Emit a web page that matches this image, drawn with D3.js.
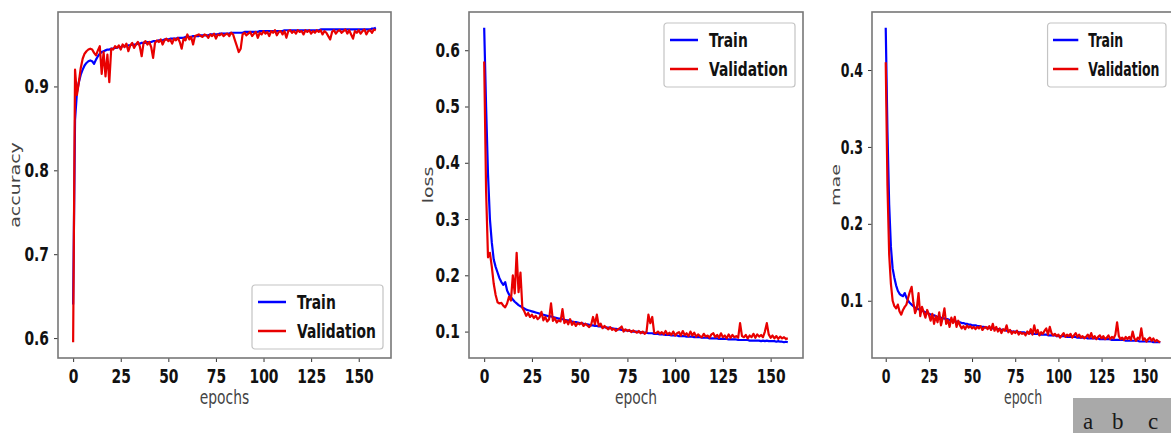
<!DOCTYPE html>
<html>
<head>
<meta charset="utf-8">
<script src="https://cdn.jsdelivr.net/npm/d3@7"></script>
<style>
  body { margin: 0; background: #fff; }
  svg { display: block; }
</style>
</head>
<body>
<svg id="chart" width="1171" height="433"></svg>
<script>
// ---- data ----
var epochs = d3.range(160);
var xTicks = [0, 25, 50, 75, 100, 125, 150];

var accTrain = [
  0.640, 0.860, 0.893, 0.905, 0.914, 0.920, 0.925, 0.928, 0.930, 0.931, 0.930, 0.927, 0.932, 0.936, 0.939, 0.941, 0.942, 0.943, 0.944, 0.944,
  0.945, 0.945, 0.946, 0.946, 0.947, 0.947, 0.948, 0.948, 0.948, 0.949, 0.949, 0.950, 0.950, 0.950, 0.951, 0.951, 0.952, 0.952, 0.952, 0.953,
  0.953, 0.953, 0.954, 0.954, 0.954, 0.955, 0.955, 0.955, 0.956, 0.956, 0.956, 0.957, 0.957, 0.957, 0.957, 0.958, 0.958, 0.958, 0.958, 0.959,
  0.959, 0.959, 0.959, 0.960, 0.960, 0.960, 0.960, 0.961, 0.961, 0.961, 0.961, 0.961, 0.962, 0.962, 0.962, 0.962, 0.962, 0.963, 0.963, 0.963,
  0.963, 0.963, 0.963, 0.964, 0.964, 0.964, 0.964, 0.964, 0.964, 0.964, 0.965, 0.965, 0.965, 0.965, 0.965, 0.965, 0.965, 0.965, 0.966, 0.966,
  0.966, 0.966, 0.966, 0.966, 0.966, 0.966, 0.966, 0.966, 0.966, 0.966, 0.966, 0.967, 0.967, 0.967, 0.967, 0.967, 0.967, 0.967, 0.967, 0.967,
  0.967, 0.967, 0.967, 0.967, 0.967, 0.967, 0.967, 0.967, 0.967, 0.967, 0.968, 0.968, 0.968, 0.968, 0.968, 0.968, 0.968, 0.968, 0.968, 0.968,
  0.968, 0.968, 0.968, 0.968, 0.968, 0.968, 0.968, 0.968, 0.968, 0.968, 0.968, 0.968, 0.968, 0.968, 0.968, 0.968, 0.968, 0.969, 0.969, 0.970
];
var accVal = [
  0.595, 0.920, 0.890, 0.905, 0.922, 0.933, 0.939, 0.942, 0.944, 0.945, 0.944, 0.940, 0.937, 0.943, 0.948, 0.915, 0.941, 0.912, 0.938, 0.905,
  0.945, 0.944, 0.948, 0.946, 0.949, 0.944, 0.950, 0.947, 0.951, 0.942, 0.949, 0.952, 0.946, 0.950, 0.953, 0.948, 0.936, 0.952, 0.954, 0.950,
  0.953, 0.947, 0.934, 0.952, 0.955, 0.953, 0.956, 0.950, 0.955, 0.957, 0.954, 0.956, 0.951, 0.957, 0.955, 0.958, 0.953, 0.945, 0.957, 0.955,
  0.962, 0.956, 0.959, 0.950, 0.960, 0.961, 0.962, 0.960, 0.959, 0.962, 0.961, 0.958, 0.962, 0.960, 0.963, 0.957, 0.962, 0.961, 0.963, 0.960,
  0.962, 0.963, 0.960, 0.964, 0.962, 0.955, 0.948, 0.941, 0.945, 0.962, 0.964, 0.961, 0.963, 0.965, 0.960, 0.963, 0.965, 0.958, 0.964, 0.962,
  0.966, 0.963, 0.965, 0.960, 0.966, 0.964, 0.967, 0.961, 0.965, 0.966, 0.962, 0.966, 0.958, 0.966, 0.967, 0.964, 0.966, 0.963, 0.967, 0.965,
  0.966, 0.962, 0.967, 0.965, 0.967, 0.963, 0.966, 0.964, 0.967, 0.965, 0.967, 0.962, 0.966, 0.964, 0.960, 0.956, 0.965, 0.967, 0.963, 0.966,
  0.967, 0.964, 0.966, 0.968, 0.963, 0.967, 0.962, 0.957, 0.966, 0.964, 0.967, 0.963, 0.966, 0.968, 0.962, 0.966, 0.967, 0.964, 0.968, 0.967
];

var lossTrain = [
  0.640, 0.500, 0.380, 0.300, 0.258, 0.228, 0.215, 0.205, 0.195, 0.188, 0.183, 0.188, 0.173, 0.166, 0.161, 0.157, 0.153, 0.150, 0.147, 0.145,
  0.143, 0.141, 0.139, 0.138, 0.137, 0.136, 0.135, 0.134, 0.133, 0.132, 0.131, 0.130, 0.129, 0.128, 0.127, 0.127, 0.126, 0.125, 0.124, 0.123,
  0.123, 0.122, 0.121, 0.120, 0.120, 0.119, 0.118, 0.117, 0.117, 0.116, 0.115, 0.115, 0.114, 0.113, 0.113, 0.112, 0.111, 0.111, 0.110, 0.110,
  0.109, 0.109, 0.108, 0.108, 0.107, 0.107, 0.106, 0.106, 0.105, 0.105, 0.104, 0.104, 0.103, 0.103, 0.102, 0.102, 0.101, 0.101, 0.100, 0.100,
  0.100, 0.099, 0.099, 0.098, 0.098, 0.098, 0.097, 0.097, 0.097, 0.096, 0.096, 0.096, 0.095, 0.095, 0.095, 0.094, 0.094, 0.094, 0.093, 0.093,
  0.093, 0.093, 0.092, 0.092, 0.092, 0.092, 0.091, 0.091, 0.091, 0.091, 0.090, 0.090, 0.090, 0.090, 0.089, 0.089, 0.089, 0.089, 0.088, 0.088,
  0.088, 0.088, 0.088, 0.087, 0.087, 0.087, 0.087, 0.087, 0.086, 0.086, 0.086, 0.086, 0.086, 0.085, 0.085, 0.085, 0.085, 0.085, 0.085, 0.084,
  0.084, 0.084, 0.084, 0.084, 0.084, 0.083, 0.084, 0.083, 0.084, 0.083, 0.083, 0.083, 0.083, 0.082, 0.083, 0.082, 0.082, 0.081, 0.082, 0.081
];
var lossVal = [
  0.580, 0.350, 0.232, 0.240, 0.215, 0.185, 0.165, 0.152, 0.150, 0.151, 0.146, 0.143, 0.150, 0.162, 0.155, 0.200, 0.168, 0.240, 0.170, 0.205,
  0.142, 0.136, 0.128, 0.133, 0.126, 0.130, 0.124, 0.128, 0.122, 0.125, 0.135, 0.120, 0.126, 0.118, 0.122, 0.150, 0.119, 0.124, 0.116, 0.120,
  0.118, 0.140, 0.115, 0.120, 0.113, 0.122, 0.112, 0.117, 0.110, 0.115, 0.113, 0.116, 0.110, 0.114, 0.111, 0.108, 0.112, 0.126, 0.113, 0.130,
  0.110, 0.114, 0.106, 0.110, 0.107, 0.104, 0.108, 0.103, 0.105, 0.101, 0.104, 0.106, 0.109, 0.100, 0.104, 0.101, 0.103, 0.099, 0.102, 0.100,
  0.098, 0.101, 0.097, 0.100, 0.096, 0.099, 0.130, 0.115, 0.126, 0.098, 0.097, 0.100, 0.096, 0.099, 0.095, 0.101, 0.095, 0.098, 0.094, 0.100,
  0.093, 0.097, 0.099, 0.093, 0.101, 0.094, 0.097, 0.092, 0.100, 0.093, 0.098, 0.091, 0.095, 0.092, 0.090, 0.096, 0.091, 0.093, 0.089, 0.095,
  0.097, 0.090, 0.094, 0.089, 0.097, 0.090, 0.093, 0.088, 0.095, 0.089, 0.094, 0.090, 0.092, 0.089, 0.115, 0.092, 0.090, 0.094, 0.088, 0.093,
  0.090, 0.096, 0.089, 0.095, 0.091, 0.094, 0.090, 0.100, 0.115, 0.095, 0.089, 0.093, 0.088, 0.092, 0.087, 0.091, 0.088, 0.090, 0.087, 0.088
];

var maeTrain = [
  0.455, 0.320, 0.225, 0.170, 0.142, 0.130, 0.120, 0.113, 0.109, 0.107, 0.106, 0.110, 0.104, 0.100, 0.097, 0.095, 0.093, 0.091, 0.090, 0.089,
  0.088, 0.087, 0.086, 0.085, 0.084, 0.083, 0.082, 0.081, 0.081, 0.080, 0.079, 0.079, 0.078, 0.077, 0.077, 0.076, 0.076, 0.075, 0.074, 0.074,
  0.073, 0.073, 0.072, 0.072, 0.071, 0.071, 0.070, 0.070, 0.069, 0.069, 0.068, 0.068, 0.068, 0.067, 0.067, 0.066, 0.066, 0.066, 0.065, 0.065,
  0.065, 0.064, 0.064, 0.064, 0.063, 0.063, 0.063, 0.062, 0.062, 0.062, 0.061, 0.061, 0.061, 0.060, 0.060, 0.060, 0.060, 0.059, 0.059, 0.059,
  0.059, 0.058, 0.058, 0.058, 0.058, 0.057, 0.057, 0.057, 0.057, 0.056, 0.056, 0.056, 0.056, 0.056, 0.055, 0.055, 0.055, 0.055, 0.055, 0.054,
  0.054, 0.054, 0.054, 0.054, 0.054, 0.053, 0.053, 0.053, 0.053, 0.053, 0.053, 0.052, 0.052, 0.052, 0.052, 0.052, 0.052, 0.051, 0.051, 0.051,
  0.051, 0.051, 0.051, 0.051, 0.050, 0.050, 0.050, 0.050, 0.050, 0.050, 0.050, 0.049, 0.049, 0.049, 0.049, 0.049, 0.049, 0.049, 0.049, 0.048,
  0.048, 0.048, 0.048, 0.048, 0.048, 0.048, 0.048, 0.047, 0.047, 0.047, 0.047, 0.047, 0.047, 0.047, 0.047, 0.046, 0.046, 0.046, 0.046, 0.046
];
var maeVal = [
  0.410, 0.250, 0.160, 0.122, 0.100, 0.093, 0.090, 0.095, 0.086, 0.082, 0.088, 0.092, 0.095, 0.104, 0.112, 0.118, 0.098, 0.084, 0.090, 0.110,
  0.080, 0.092, 0.085, 0.078, 0.088, 0.082, 0.074, 0.083, 0.070, 0.080, 0.072, 0.085, 0.068, 0.078, 0.090, 0.070, 0.075, 0.066, 0.078, 0.071,
  0.079, 0.066, 0.074, 0.068, 0.064, 0.067, 0.063, 0.068, 0.065, 0.067, 0.064, 0.066, 0.063, 0.066, 0.064, 0.067, 0.062, 0.065, 0.066, 0.063,
  0.067, 0.062, 0.070, 0.061, 0.066, 0.060, 0.064, 0.058, 0.063, 0.061, 0.068, 0.059, 0.062, 0.057, 0.060, 0.058, 0.061, 0.056, 0.059, 0.057,
  0.058, 0.055, 0.060, 0.057, 0.063, 0.056, 0.068, 0.058, 0.062, 0.055, 0.059, 0.057, 0.061, 0.064, 0.056, 0.066, 0.058, 0.055, 0.057, 0.054,
  0.056, 0.052, 0.055, 0.058, 0.053, 0.056, 0.054, 0.057, 0.052, 0.055, 0.058, 0.053, 0.056, 0.052, 0.054, 0.051, 0.053, 0.056, 0.052, 0.058,
  0.051, 0.054, 0.050, 0.053, 0.055, 0.051, 0.054, 0.050, 0.052, 0.055, 0.050, 0.053, 0.051, 0.056, 0.072, 0.054, 0.050, 0.052, 0.049, 0.053,
  0.050, 0.053, 0.049, 0.060, 0.051, 0.048, 0.052, 0.050, 0.064, 0.049, 0.051, 0.047, 0.050, 0.052, 0.048, 0.051, 0.047, 0.049, 0.047, 0.046
];

var seriesNames = ['Train', 'Validation'];
var panelLetters = ['a', 'b', 'c'];

(function () {
  // ---- layout ----
  var W = 1171, H = 433;
  var plotTop = 12, plotBottom = 358;
  var colors = ['#0000ff', '#e80000'];
  var fontBold = 'DejaVu Sans';

  var panels = [
    { ylabel: 'accuracy', xlabel: 'epochs', series: [accTrain, accVal], yTicks: [0.6, 0.7, 0.8, 0.9],
      left: 58, right: 391, sx: 0.73, legend: 'lower', ylabelX: 20 },
    { ylabel: 'loss', xlabel: 'epoch', series: [lossTrain, lossVal], yTicks: [0.1, 0.2, 0.3, 0.4, 0.5, 0.6],
      left: 469, right: 803, sx: 0.73, legend: 'upper', ylabelX: 433 },
    { ylabel: 'mae', xlabel: 'epoch', series: [maeTrain, maeVal], yTicks: [0.1, 0.2, 0.3, 0.4],
      left: 872, right: 1174, sx: 0.66, legend: 'upper', ylabelX: 840 }
  ];

  var svg = d3.select('#chart');

  // matplotlib style 5% margins
  function padded(ext) {
    var p = (ext[1] - ext[0]) * 0.05;
    return [ext[0] - p, ext[1] + p];
  }

  panels.forEach(function (p) {
    var x = d3.scaleLinear()
      .domain(padded(d3.extent(epochs)))
      .range([p.left, p.right]);
    var y = d3.scaleLinear()
      .domain(padded(d3.extent(p.series[0].concat(p.series[1]))))
      .range([plotBottom, plotTop]);

    var g = svg.append('g');

    // clip so lines stay inside the frame
    var clipId = 'clip-' + p.ylabel;
    g.append('clipPath').attr('id', clipId)
      .append('rect')
      .attr('x', p.left).attr('y', plotTop)
      .attr('width', p.right - p.left).attr('height', plotBottom - plotTop);

    var line = d3.line()
      .x(function (d, i) { return x(epochs[i]); })
      .y(function (d) { return y(d); });

    g.append('g').attr('clip-path', 'url(#' + clipId + ')')
      .selectAll('path')
      .data(p.series)
      .enter().append('path')
      .attr('d', line)
      .attr('fill', 'none')
      .attr('stroke', function (d, i) { return colors[i]; })
      .attr('stroke-width', 2.2)
      .attr('stroke-linejoin', 'round');

    // axes
    var xAxis = g.append('g')
      .attr('transform', 'translate(0,' + plotBottom + ')')
      .call(d3.axisBottom(x).tickValues(xTicks).tickSize(4).tickPadding(8).tickFormat(d3.format('d')));
    var yAxis = g.append('g')
      .attr('transform', 'translate(' + p.left + ',0)')
      .call(d3.axisLeft(y).tickValues(p.yTicks).tickSize(4).tickPadding(5).tickFormat(d3.format('.1f')));

    [xAxis, yAxis].forEach(function (a) {
      a.select('.domain').remove();
      a.selectAll('.tick line').attr('stroke', '#333').attr('stroke-width', 1);
      a.selectAll('.tick text')
        .attr('fill', '#111')
        .style('font-family', fontBold)
        .style('font-size', '19px')
        .style('font-weight', 'bold');
    });
    xAxis.selectAll('.tick text').attr('transform', 'scale(' + p.sx + ',1)');
    yAxis.selectAll('.tick text')
      .attr('x', -9 / p.sx)
      .attr('transform', 'scale(' + p.sx + ',1)');

    // frame
    g.append('rect')
      .attr('x', p.left).attr('y', plotTop)
      .attr('width', p.right - p.left).attr('height', plotBottom - plotTop)
      .attr('fill', 'none')
      .attr('stroke', '#777')
      .attr('stroke-width', 1.6);

    // axis labels
    g.append('text')
      .attr('transform', 'translate(' + (p.left + p.right) / 2 + ',404) scale(' + p.sx + ',1)')
      .attr('text-anchor', 'middle')
      .attr('fill', '#444')
      .style('font-family', 'DejaVu Sans')
      .style('font-size', '19px')
      .text(p.xlabel);
    g.append('text')
      .attr('transform', 'translate(' + p.ylabelX + ',' + (plotTop + plotBottom) / 2 + ') scale(' + p.sx + ',1) rotate(-90)')
      .attr('text-anchor', 'middle')
      .attr('fill', '#444')
      .style('font-family', 'DejaVu Sans')
      .style('font-size', '19px')
      .text(p.ylabel);

    // legend
    var k = p.sx / 0.73;
    var bw = 131 * k, bh = 64;
    var bx = p.right - 8 - bw;
    var by = p.legend === 'lower' ? plotBottom - 9 - bh : plotTop + 11;
    var lg = g.append('g').attr('transform', 'translate(' + bx + ',' + by + ')');
    lg.append('rect')
      .attr('width', bw).attr('height', bh)
      .attr('rx', 3)
      .attr('fill', '#fff')
      .attr('stroke', '#c4c4c4')
      .attr('stroke-width', 1.2);
    var rows = lg.selectAll('g.row')
      .data(seriesNames)
      .enter().append('g')
      .attr('class', 'row')
      .attr('transform', function (d, i) { return 'translate(0,' + (17 + i * 29) + ')'; });
    rows.append('line')
      .attr('x1', 6 * k).attr('x2', 34 * k)
      .attr('stroke', function (d, i) { return colors[i]; })
      .attr('stroke-width', 2.5);
    rows.append('text')
      .attr('transform', 'translate(' + 45 * k + ',7) scale(' + p.sx + ',1)')
      .attr('fill', '#111')
      .style('font-family', fontBold)
      .style('font-size', '19px')
      .style('font-weight', 'bold')
      .text(function (d) { return d; });
  });

  // sub-figure letters box
  svg.append('rect')
    .attr('x', 1073).attr('y', 398)
    .attr('width', W - 1073).attr('height', H - 398)
    .attr('fill', '#a9a9a9');
  svg.selectAll('text.letter')
    .data(panelLetters)
    .enter().append('text')
    .attr('class', 'letter')
    .attr('x', function (d, i) { return [1083, 1112, 1148][i]; })
    .attr('y', 429)
    .attr('fill', '#1a1a1a')
    .style('font-family', 'Liberation Serif')
    .style('font-size', '23px')
    .text(function (d) { return d; });
})();
</script>
</body>
</html>
